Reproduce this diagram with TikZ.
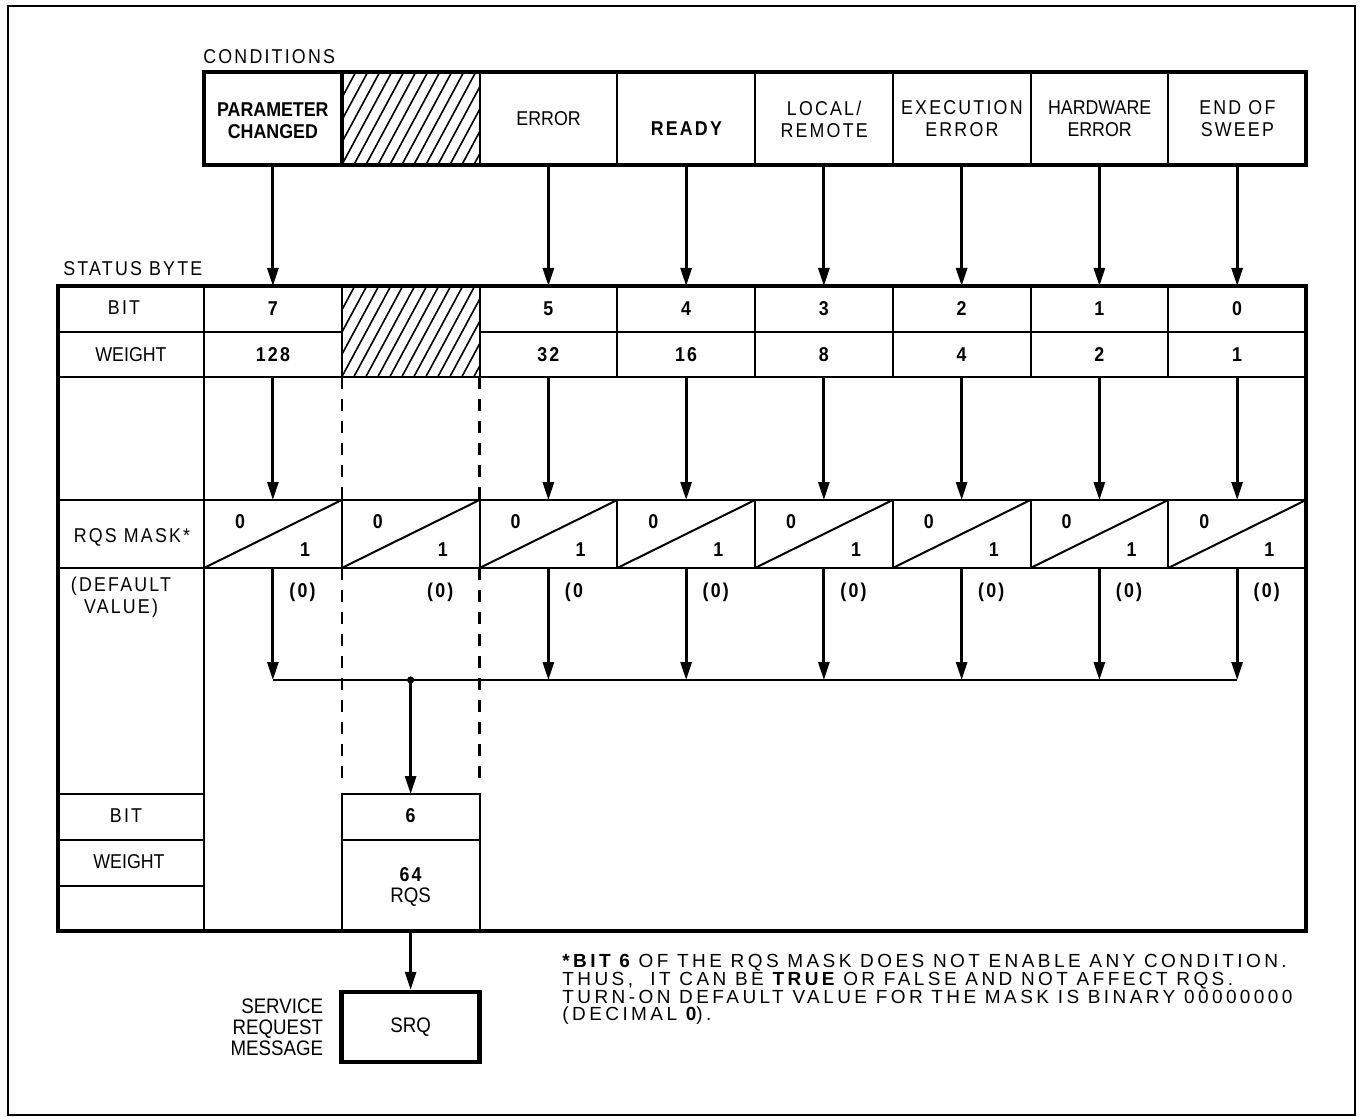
\documentclass[tikz,border=0pt]{standalone}
\usepackage{fontspec}
\setmainfont{Liberation Sans}[FakeStretch=0.89]
\newfontfamily\wide{Liberation Sans}[FakeStretch=0.89, LetterSpace=11]
\newfontfamily\widenote{Liberation Sans}[LetterSpace=18]
\usetikzlibrary{arrows.meta,positioning}

\begin{document}
\begin{tikzpicture}[x=0.5pt, y=-0.5pt, >={Triangle[length=9pt,width=5.5pt]},
    heavy/.style={line width=2.2pt},
    rule/.style={line width=1pt},
    arr/.style={->, line width=1.4pt},
    dashcol/.style={line width=1.2pt, dash pattern=on 6pt off 5pt},
    hatchline/.style={line width=0.8pt},
    lbl/.style={inner sep=0pt, align=center, font=\fontsize{10}{11}\selectfont},
    blbl/.style={lbl, font=\fontsize{10}{11}\selectfont\bfseries},
    wlbl/.style={lbl, font=\fontsize{10}{11}\selectfont\wide},
    num/.style={lbl, font=\fontsize{10}{11}\selectfont\wide\bfseries}]
  \useasboundingbox (0,0) rectangle (1363,1117);
  % Marco exterior
  \draw[line width=0.8pt] (8,6) rectangle (1355,1115);

  % Condiciones
  \node[wlbl, anchor=west] (condtitle) at (203,57) {CONDITIONS};
  \begin{scope}
    \clip (341.75,72) rectangle (479.5,165);
    \foreach \k in {-5,...,12}
      \draw[hatchline] (341.75+12*\k,165) -- ++(50,-93);
  \end{scope}
  \foreach \i in {2,...,7}
    \draw[rule] (204+137.75*\i,72) -- (204+137.75*\i,165);
  \draw[heavy] (204,72) rectangle (1306,165);
  \draw[heavy] (341.75,72) -- (341.75,165);

  \node[blbl] (cond0) at (272.875,121) {PARAMETER\\CHANGED};
  \node[lbl]  (cond2) at (548.625,119) {ERROR};
  \node[num]  (cond3) at (686.375,129) {READY};
  \node[wlbl] (cond4) at (824.125,119) {LOCAL/\\REMOTE};
  \node[wlbl] (cond5) at (961.875,119) {EXECUTION\\ERROR};
  \node[lbl]  (cond6) at (1099.625,119) {HARDWARE\\ERROR};
  \node[wlbl] (cond7) at (1237.375,119) {END OF\\SWEEP};

  % Byte de estado
  \node[wlbl, anchor=west] (sbtitle) at (63,269) {STATUS BYTE};
  \begin{scope}
    \clip (341.75,286) rectangle (479.5,377);
    \foreach \k in {-5,...,12}
      \draw[hatchline] (341.75+12*\k,377) -- ++(49,-91);
  \end{scope}
  \draw[heavy] (58,286) rectangle (1306,931);
  \draw[rule] (204,286) -- (204,931);
  \draw[rule] (58,332) -- (341.75,332);
  \draw[rule] (479.5,332) -- (1306,332);
  \draw[rule] (58,377) -- (1306,377);
  \draw[rule] (58,500) -- (1306,500);
  \draw[rule] (58,568) -- (1306,568);
  \foreach \i in {1,...,7} {
    \draw[rule] (204+137.75*\i,286) -- (204+137.75*\i,377);
    \draw[rule] (204+137.75*\i,500) -- (204+137.75*\i,568);
  }

  \node[wlbl] (bitlbl) at (124,308) {BIT};
  \node[lbl]  (wtlbl) at (131,355) {WEIGHT};
  \foreach \i/\b/\w in {0/7/128,2/5/32,3/4/16,4/3/8,5/2/4,6/1/2,7/0/1} {
    \node[num] (bit\i) at (272.875+137.75*\i,309) {\b};
    \node[num] (wt\i) at (272.875+137.75*\i,355) {\w};
  }

  % Mascara RQS
  \node[wlbl] (masklbl) at (132,537) {RQS MASK*};
  \node[wlbl] (dfltlbl) at (121,597) {(DEFAULT\\VALUE)};
  \foreach \i/\d in {0/{(0)},1/{(0)},2/{(0},3/{(0)},4/{(0)},5/{(0)},6/{(0)},7/{(0)}} {
    \draw[rule] (204+137.75*\i,568) -- (341.75+137.75*\i,500);
    \node[num] (zero\i) at (240+137.75*\i,522) {0};
    \node[num] (one\i) at (305+137.75*\i,550) {1};
    \node[num, anchor=west] (dflt\i) at (289+137.75*\i,592) {\d};
  }
  \draw[dashcol] (341.75,377) -- (341.75,500);
  \draw[dashcol] (479.5,377) -- (479.5,500);
  \draw[dashcol] (341.75,568) -- (341.75,780);
  \draw[dashcol] (479.5,568) -- (479.5,780);

  % Flechas
  \foreach \i in {0,2,3,4,5,6,7} {
    \coordinate (ca\i) at (272.875+137.75*\i,165);
    \coordinate (sa\i) at (272.875+137.75*\i,286);
    \coordinate (sb\i) at (272.875+137.75*\i,377);
    \coordinate (ma\i) at (272.875+137.75*\i,500);
    \coordinate (mb\i) at (272.875+137.75*\i,568);
    \coordinate (bus\i) at (272.875+137.75*\i,680);
    \draw[arr] (ca\i) -- (sa\i);
    \draw[arr] (sb\i) -- (ma\i);
    \draw[arr] (mb\i) -- (bus\i);
  }
  \draw[line width=1.2pt] (bus0) -- (bus7);
  \coordinate (jn) at (410.625,680);
  \fill (jn) circle (1.8pt);

  % Bit 6 (RQS)
  \draw[rule] (58,794) -- (204,794);
  \draw[rule] (58,840) -- (204,840);
  \draw[rule] (58,886) -- (204,886);
  \draw[rule] (341.75,794) rectangle (479.5,931);
  \draw[rule] (341.75,840) -- (479.5,840);
  \node[wlbl] (bitlbl2) at (126,816) {BIT};
  \node[lbl]  (wtlbl2) at (129,862) {WEIGHT};
  \coordinate (rqsin) at (410.625,794);
  \coordinate (rqsout) at (410.625,931);
  \draw[arr] (jn) -- (rqsin);
  \node[num] (bit6) at (410.625,816) {6};
  \node[num] (wt6) at (410.625,875) {64};
  \node[lbl, font=\fontsize{10.5}{11}\selectfont] (rqs) at (410.625,897) {RQS};

  % SRQ
  \node[draw, heavy, minimum width=69pt, minimum height=35pt, inner sep=0pt,
        font=\fontsize{10.5}{11}\selectfont] (srq) at (410.625,1027) {SRQ};
  \draw[arr] (rqsout) -- (srq.north);
  \node[left=8pt of srq, align=right, inner sep=0pt,
        font=\fontsize{10.5}{10.5}\selectfont] (srm) {SERVICE\\REQUEST\\MESSAGE};

  % Nota
  \node[anchor=north west, align=left, inner sep=0pt,
        font=\fontsize{9.5}{8.85}\selectfont\widenote] (note) at (562,954)
    {{\bfseries *BIT 6} OF THE RQS MASK DOES NOT ENABLE ANY CONDITION.\\
     THUS, \ IT CAN BE {\bfseries TRUE} OR FALSE AND NOT AFFECT RQS.\\
     TURN-ON DEFAULT VALUE FOR THE MASK IS BINARY 00000000\\
     (DECIMAL {\bfseries 0}).};
\end{tikzpicture}
\end{document}
